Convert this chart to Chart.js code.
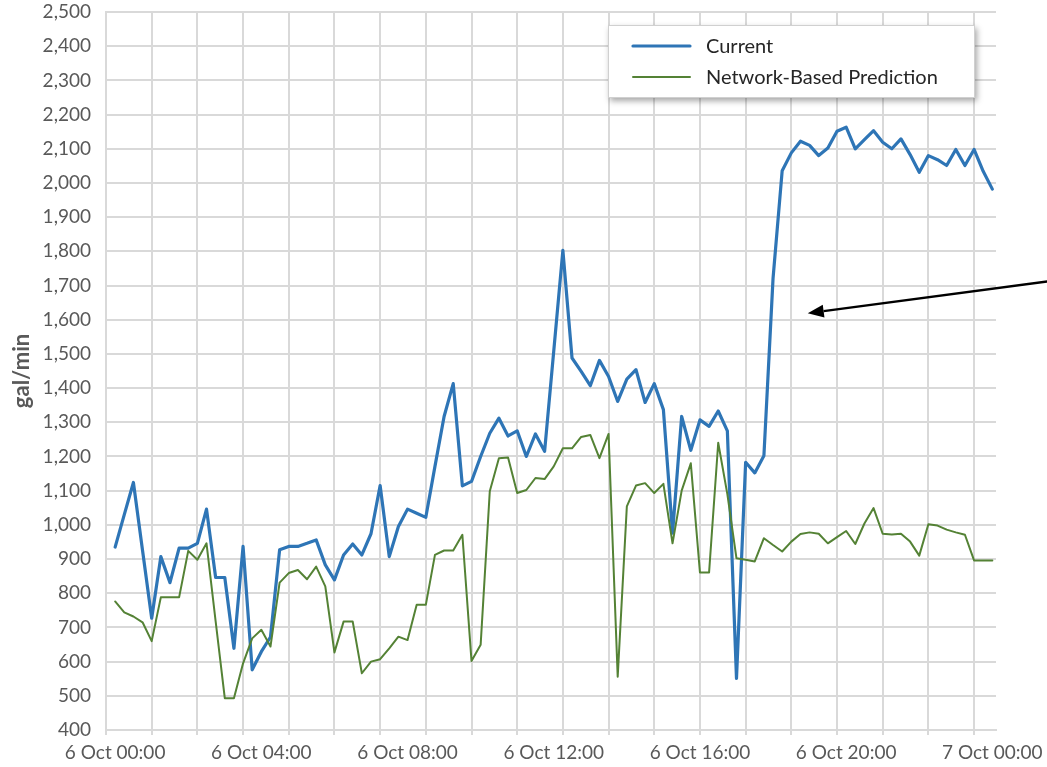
<!DOCTYPE html>
<html>
<head>
<meta charset="utf-8">
<script src="https://cdn.jsdelivr.net/npm/chart.js@4.4.1/dist/chart.umd.min.js"></script>
<style>
html,body{margin:0;padding:0;background:#ffffff;}
#wrap{width:1047px;height:767px;position:relative;}
</style>
</head>
<body>
<div id="wrap"><canvas id="c" width="1047" height="767"></canvas></div>
<script>
// Sample times (6 Oct 00:00 .. 7 Oct 00:00, every 15 minutes)
const times = [
  '00:00','00:15','00:30','00:45','01:00','01:15','01:30','01:45',
  '02:00','02:15','02:30','02:45','03:00','03:15','03:30','03:45',
  '04:00','04:15','04:30','04:45','05:00','05:15','05:30','05:45',
  '06:00','06:15','06:30','06:45','07:00','07:15','07:30','07:45',
  '08:00','08:15','08:30','08:45','09:00','09:15','09:30','09:45',
  '10:00','10:15','10:30','10:45','11:00','11:15','11:30','11:45',
  '12:00','12:15','12:30','12:45','13:00','13:15','13:30','13:45',
  '14:00','14:15','14:30','14:45','15:00','15:15','15:30','15:45',
  '16:00','16:15','16:30','16:45','17:00','17:15','17:30','17:45',
  '18:00','18:15','18:30','18:45','19:00','19:15','19:30','19:45',
  '20:00','20:15','20:30','20:45','21:00','21:15','21:30','21:45',
  '22:00','22:15','22:30','22:45','23:00','23:15','23:30','23:45',
  '24:00'
];

const seriesNames = ['Current', 'Network-Based Prediction'];

const currentFlow = [
  935,1030,1124,925,727,907,831,932,932,946,
  1046,846,846,639,937,576,629,672,927,937,
  937,946,956,883,839,912,944,912,974,1115,
  907,995,1046,1034,1022,1171,1317,1413,1114,1127,
  1200,1268,1312,1260,1275,1200,1266,1215,1508,1803,
  1488,1449,1407,1481,1434,1361,1426,1454,1358,1413,
  1337,976,1317,1218,1307,1288,1333,1275,551,1183,
  1152,1202,1721,2036,2088,2122,2110,2080,2102,2151,
  2163,2100,2127,2153,2119,2100,2129,2083,2031,2080,
  2068,2051,2098,2051,2098,2034,1982
];

const predictedFlow = [
  776,744,732,715,660,788,788,788,924,898,
  946,718,493,493,595,668,693,644,831,859,
  868,841,878,820,627,717,717,566,600,607,
  639,673,663,766,766,912,925,925,971,602,
  649,1098,1195,1197,1093,1102,1137,1134,1171,1224,
  1224,1257,1263,1195,1266,556,1054,1115,1122,1093,
  1120,946,1100,1180,861,861,1240,1090,902,898,
  893,961,941,922,951,973,978,974,946,964,
  982,944,1004,1049,974,972,974,951,910,1002,
  998,986,978,971,896,896,896
];

// Axis tick labels (minutes after 6 Oct 00:00)
const tickMinutes = [0, 240, 480, 720, 960, 1200, 1440];
const tickLabels = ['6 Oct 00:00','6 Oct 04:00','6 Oct 08:00','6 Oct 12:00','6 Oct 16:00','6 Oct 20:00','7 Oct 00:00'];

// Annotation arrow (data coordinates: minutes, gal/min)
const arrowFrom = {x: 1535, y: 1713};
const arrowTo   = {x: 1137, y: 1619};

function toMinutes(t) {
  const p = t.split(':');
  return parseInt(p[0], 10) * 60 + parseInt(p[1], 10);
}
const xMinutes = times.map(toMinutes);
const currentPts = xMinutes.map((m, i) => ({x: m, y: currentFlow[i]}));
const predictedPts = xMinutes.map((m, i) => ({x: m, y: predictedFlow[i]}));

const GRID = '#d9d9d9';
const TXT = '#595959';
const FONT = 'Lato';
const gridStart = -15, gridStep = 75;
function isGridTick(v) {
  return Math.abs(((v - gridStart) % gridStep)) < 1e-6;
}

const legendPlugin = {
  id: 'boxLegend',
  afterDraw(chart) {
    const ctx = chart.ctx;
    const bx = 608, by = 25, bw = 367, bh = 73;
    ctx.save();
    ctx.shadowColor = 'rgba(0,0,0,0.35)';
    ctx.shadowBlur = 6;
    ctx.shadowOffsetX = 2;
    ctx.shadowOffsetY = 3;
    ctx.fillStyle = '#ffffff';
    ctx.fillRect(bx, by, bw, bh);
    ctx.restore();
    ctx.save();
    ctx.strokeStyle = '#d0d0d0';
    ctx.lineWidth = 1;
    ctx.strokeRect(bx + 0.5, by + 0.5, bw - 1, bh - 1);
    const rows = [46, 77];
    chart.data.datasets.forEach((ds, i) => {
      const y = rows[i];
      ctx.strokeStyle = ds.borderColor;
      ctx.lineWidth = ds.borderWidth;
      ctx.lineCap = 'round';
      ctx.beginPath();
      ctx.moveTo(633, y);
      ctx.lineTo(690, y);
      ctx.stroke();
      ctx.fillStyle = '#262626';
      ctx.font = '20px ' + FONT;
      ctx.textBaseline = 'middle';
      ctx.textAlign = 'left';
      ctx.fillText(ds.label, 706, y + 1);
    });
    ctx.restore();
  }
};

const arrowPlugin = {
  id: 'arrowNote',
  afterDatasetsDraw(chart) {
    const xs = chart.scales.x, ys = chart.scales.y;
    const x1 = xs.getPixelForValue(arrowFrom.x), y1 = ys.getPixelForValue(arrowFrom.y);
    const x2 = xs.getPixelForValue(arrowTo.x), y2 = ys.getPixelForValue(arrowTo.y);
    const ang = Math.atan2(y2 - y1, x2 - x1);
    const L = 16, W = 6.5;
    const bxp = x2 - L * Math.cos(ang), byp = y2 - L * Math.sin(ang);
    const ctx = chart.ctx;
    ctx.save();
    ctx.strokeStyle = '#000000';
    ctx.lineWidth = 2.5;
    ctx.beginPath();
    ctx.moveTo(x1, y1);
    ctx.lineTo(bxp, byp);
    ctx.stroke();
    ctx.fillStyle = '#000000';
    ctx.beginPath();
    ctx.moveTo(x2, y2);
    ctx.lineTo(bxp + W * Math.sin(ang), byp - W * Math.cos(ang));
    ctx.lineTo(bxp - W * Math.sin(ang), byp + W * Math.cos(ang));
    ctx.closePath();
    ctx.fill();
    ctx.restore();
  }
};

new Chart(document.getElementById('c'), {
  type: 'line',
  data: {
    datasets: [
      {
        label: seriesNames[0],
        data: currentPts,
        borderColor: '#2e75b6',
        borderWidth: 3.2,
        pointRadius: 0,
        tension: 0,
        borderJoinStyle: 'round',
        borderCapStyle: 'round',
        order: 1
      },
      {
        label: seriesNames[1],
        data: predictedPts,
        borderColor: '#548235',
        borderWidth: 2,
        pointRadius: 0,
        tension: 0,
        borderJoinStyle: 'round',
        borderCapStyle: 'round',
        order: 0
      }
    ]
  },
  options: {
    responsive: false,
    animation: false,
    devicePixelRatio: 1,
    layout: {padding: {top: 12, right: 51, bottom: 0, left: 0}},
    plugins: {
      legend: {display: false},
      tooltip: {enabled: false}
    },
    scales: {
      x: {
        type: 'linear',
        min: -15,
        max: 1446,
        afterBuildTicks(scale) {
          const vals = new Set();
          for (let m = gridStart; m <= scale.max; m += gridStep) vals.add(m);
          tickMinutes.forEach(m => vals.add(m));
          scale.ticks = Array.from(vals).sort((a, b) => a - b).map(v => ({value: v}));
        },
        afterFit(scale) {
          scale.height = 37;
          scale.paddingLeft = 0;
          scale.paddingRight = 0;
        },
        ticks: {
          autoSkip: false,
          maxRotation: 0,
          minRotation: 0,
          padding: 6,
          color: TXT,
          font: {family: FONT, size: 19},
          callback(value) {
            const k = tickMinutes.indexOf(value);
            return k >= 0 ? tickLabels[k] : '';
          }
        },
        grid: {
          color: (c) => (c.tick && isGridTick(c.tick.value)) ? GRID : 'rgba(0,0,0,0)',
          lineWidth: 2,
          drawTicks: true,
          tickLength: 5
        },
        border: {display: true, color: GRID, width: 2}
      },
      y: {
        min: 400,
        max: 2500,
        afterFit(scale) {
          scale.width = 106;
          scale.paddingTop = 0;
          scale.paddingBottom = 0;
        },
        ticks: {
          stepSize: 100,
          padding: 15,
          color: TXT,
          font: {family: FONT, size: 19},
          callback(value) { return value.toLocaleString('en-US'); }
        },
        grid: {color: GRID, lineWidth: 2, drawTicks: false},
        border: {display: true, color: GRID, width: 2},
        title: {
          display: true,
          text: 'gal/min',
          color: TXT,
          font: {family: FONT, size: 22, weight: 'bold'},
          padding: {top: 9, bottom: 0}
        }
      }
    }
  },
  plugins: [arrowPlugin, legendPlugin]
});
</script>
</body>
</html>
